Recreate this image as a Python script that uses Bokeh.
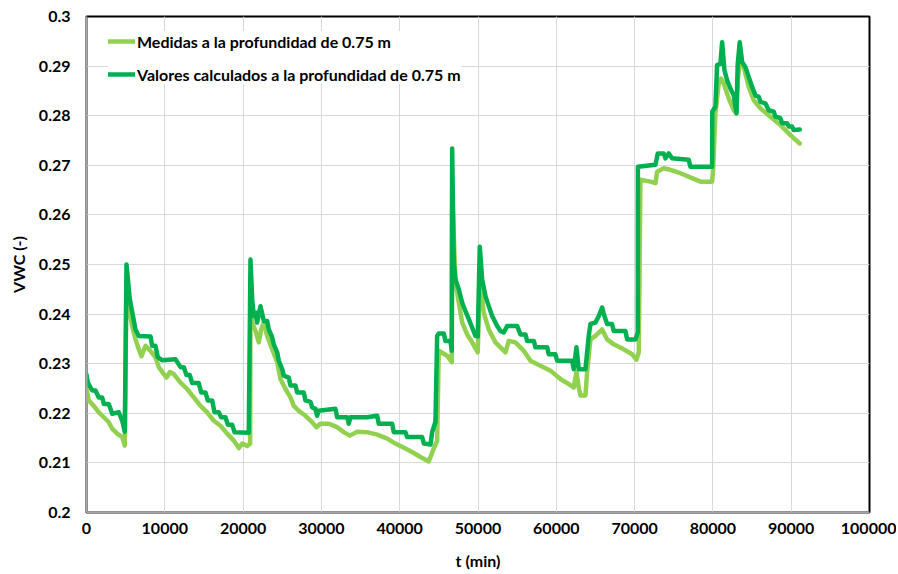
from bokeh.plotting import figure
from bokeh.models import FixedTicker, Range1d, Legend, LegendItem
from bokeh.embed import file_html
from bokeh.resources import INLINE

# ---- data ----
t_medidas = [0, 294, 932, 1571, 2209, 2848, 3282, 3920, 4559, 4891, 5108, 5402, 5834, 6257, 6680,
             7023, 7534, 8173, 8811, 9233, 9872, 10216, 10637, 11148, 12004, 12855, 13702, 14558,
             15413, 16256, 17112, 17968, 18810, 19449, 19883, 20522, 20900, 20943, 21160, 21581,
             22003, 22309, 22641, 23074, 23714, 24352, 24774, 25412, 26050, 26472, 27111, 27966,
             28822, 29371, 29882, 30941, 32014, 32856, 33623, 34568, 35846, 37123, 38400, 39459,
             40736, 41799, 42652, 43712, 44350, 44783, 44990, 46062, 46650, 46700, 47121, 47547,
             47981, 48620, 49255, 49970, 50225, 50730, 51376, 52228, 52870, 53508, 53930, 54785,
             55844, 56699, 57976, 59253, 60530, 61591, 62229, 62573, 62867, 63084, 63723, 63936,
             64361, 65000, 65855, 66492, 67335, 68613, 69686, 70235, 70531, 70746, 72023, 72662,
             72875, 73723, 74574, 75852, 77346, 78408, 79898, 80024, 80320, 80745, 81049, 81379,
             82018, 82662, 83006, 83172, 83517, 83938, 84576, 85214, 86068, 87346, 88623, 89900,
             91090]
vwc_medidas = [0.2249, 0.2226, 0.2215, 0.2202, 0.2192, 0.2182, 0.2169, 0.2159, 0.2152, 0.2135,
               0.2470, 0.2416, 0.2376, 0.2349, 0.2329, 0.2315, 0.2336, 0.2326, 0.2313, 0.2293,
               0.2279, 0.2272, 0.2283, 0.2279, 0.2262, 0.2249, 0.2232, 0.2215, 0.2202, 0.2185,
               0.2175, 0.2159, 0.2145, 0.2130, 0.2139, 0.2134, 0.2139, 0.2480, 0.2383, 0.2366,
               0.2343, 0.2369, 0.2383, 0.2356, 0.2329, 0.2303, 0.2269, 0.2249, 0.2232, 0.2215,
               0.2205, 0.2195, 0.2182, 0.2172, 0.2179, 0.2179, 0.2172, 0.2162, 0.2155, 0.2163,
               0.2162, 0.2157, 0.2149, 0.2139, 0.2129, 0.2120, 0.2112, 0.2103, 0.2129, 0.2145,
               0.2326, 0.2316, 0.2303, 0.2650, 0.2463, 0.2423, 0.2383, 0.2359, 0.2343, 0.2323,
               0.2480, 0.2403, 0.2369, 0.2343, 0.2333, 0.2323, 0.2346, 0.2343, 0.2326, 0.2306,
               0.2296, 0.2286, 0.2269, 0.2259, 0.2252, 0.2283, 0.2252, 0.2236, 0.2236, 0.2283,
               0.2349, 0.2356, 0.2369, 0.2349, 0.2339, 0.2329, 0.2319, 0.2308, 0.2323, 0.2671,
               0.2667, 0.2664, 0.2687, 0.2694, 0.2691, 0.2684, 0.2674, 0.2667, 0.2667, 0.2691,
               0.2805, 0.2865, 0.2875, 0.2865, 0.2835, 0.2811, 0.2805, 0.2872, 0.2918, 0.2898,
               0.2858, 0.2831, 0.2815, 0.2798, 0.2781, 0.2761, 0.2744]

t_calculados = [0, 166, 728, 1150, 1571, 2005, 2209, 2848, 3282, 4125, 4559, 4891, 5108, 5530,
                6257, 6680, 8173, 8390, 8811, 9105, 9667, 11365, 12004, 12425, 12770, 13191,
                13497, 14340, 14647, 15196, 15490, 16052, 16346, 16895, 17201, 17750, 18044,
                18606, 18900, 20726, 20943, 21160, 21364, 21581, 21798, 22220, 22641, 23074,
                23279, 23714, 23918, 24352, 24556, 24990, 25195, 25833, 26050, 26689, 26906,
                27749, 27966, 28605, 28822, 29235, 29448, 29665, 31797, 32014, 33291, 33495,
                33700, 35846, 37123, 37327, 39038, 39242, 40736, 40953, 42868, 43080, 43936,
                44145, 44566, 44783, 44990, 45630, 45844, 46483, 46650, 46700, 46904, 47121,
                47547, 47981, 48399, 48820, 49255, 49676, 49970, 50225, 50530, 50955, 51376,
                51810, 52449, 52870, 53291, 53725, 55002, 55422, 56060, 56276, 57125, 57338,
                58832, 59036, 59892, 60109, 62024, 62229, 62573, 62867, 63723, 64145, 64361,
                65000, 65420, 65855, 66058, 66492, 67120, 67335, 68830, 69047, 70107, 70403,
                70420, 72662, 72957, 73723, 73940, 74361, 74790, 76911, 77127, 79898, 79920,
                80320, 80537, 80962, 81177, 81472, 81817, 82239, 82662, 83006, 83172, 83427,
                83733, 84155, 84576, 85010, 85432, 85860, 86068, 86700, 87129, 87770, 87984,
                88623, 88839, 89470, 89690, 90110, 90324, 91090]
vwc_calculados = [0.2278, 0.2262, 0.2246, 0.2246, 0.2232, 0.2232, 0.2219, 0.2219, 0.2199, 0.2202,
                  0.2185, 0.2163, 0.2500, 0.2430, 0.2369, 0.2356, 0.2355, 0.2336, 0.2336, 0.2313,
                  0.2307, 0.2309, 0.2293, 0.2293, 0.2277, 0.2277, 0.2261, 0.2261, 0.2242, 0.2242,
                  0.2226, 0.2226, 0.2202, 0.2202, 0.2192, 0.2192, 0.2177, 0.2177, 0.2162, 0.2161,
                  0.2510, 0.2430, 0.2396, 0.2403, 0.2383, 0.2416, 0.2386, 0.2386, 0.2369, 0.2353,
                  0.2339, 0.2323, 0.2306, 0.2289, 0.2276, 0.2272, 0.2256, 0.2256, 0.2242, 0.2242,
                  0.2226, 0.2223, 0.2212, 0.2209, 0.2195, 0.2205, 0.2209, 0.2192, 0.2192, 0.2179,
                  0.2192, 0.2192, 0.2195, 0.2179, 0.2179, 0.2162, 0.2162, 0.2152, 0.2152, 0.2139,
                  0.2137, 0.2162, 0.2183, 0.2356, 0.2361, 0.2361, 0.2346, 0.2346, 0.2326, 0.2734,
                  0.2503, 0.2470, 0.2450, 0.2423, 0.2406, 0.2390, 0.2373, 0.2356, 0.2355, 0.2536,
                  0.2470, 0.2436, 0.2416, 0.2396, 0.2376, 0.2366, 0.2363, 0.2376, 0.2376, 0.2359,
                  0.2359, 0.2346, 0.2346, 0.2333, 0.2333, 0.2319, 0.2319, 0.2306, 0.2306, 0.2289,
                  0.2333, 0.2289, 0.2289, 0.2356, 0.2380, 0.2383, 0.2396, 0.2413, 0.2400, 0.2380,
                  0.2380, 0.2366, 0.2366, 0.2349, 0.2349, 0.2363, 0.2697, 0.2701, 0.2724, 0.2724,
                  0.2714, 0.2724, 0.2714, 0.2711, 0.2697, 0.2697, 0.2808, 0.2818, 0.2902, 0.2905,
                  0.2948, 0.2892, 0.2871, 0.2855, 0.2841, 0.2805, 0.2905, 0.2948, 0.2908, 0.2898,
                  0.2878, 0.2858, 0.2841, 0.2838, 0.2828, 0.2825, 0.2811, 0.2808, 0.2798, 0.2795,
                  0.2785, 0.2785, 0.2778, 0.2778, 0.2771, 0.2772]

x_ticks = [0, 10000, 20000, 30000, 40000, 50000, 60000, 70000, 80000, 90000, 100000]
x_tick_labels = ["0", "10000", "20000", "30000", "40000", "50000", "60000", "70000",
                 "80000", "90000", "100000"]
y_ticks = [0.2, 0.21, 0.22, 0.23, 0.24, 0.25, 0.26, 0.27, 0.28, 0.29, 0.3]
y_tick_labels = ["0.2", "0.21", "0.22", "0.23", "0.24", "0.25", "0.26", "0.27", "0.28",
                 "0.29", "0.3"]

label_medidas = "Medidas a la profundidad de 0.75 m"
label_calculados = "Valores calculados a la profundidad de 0.75 m"
x_title = "t (min)"
y_title = "VWC (-)"

FONT = "Lato"
COLOR_MED = "#92D050"
COLOR_CALC = "#00B050"

p = figure(width=896, height=572, output_backend="svg", toolbar_location=None,
           x_range=Range1d(0, 100000), y_range=Range1d(0.2, 0.3),
           min_border_left=86, min_border_right=27, min_border_top=16, min_border_bottom=58)
p.background_fill_color = "white"
p.border_fill_color = "white"
p.outline_line_color = "black"
p.outline_line_width = 2

r_med = p.line(t_medidas, vwc_medidas, line_color=COLOR_MED, line_width=4.5,
               line_join="round", line_cap="round")
r_calc = p.line(t_calculados, vwc_calculados, line_color=COLOR_CALC, line_width=4.5,
                line_join="round", line_cap="round")

for ax in (p.xaxis[0], p.yaxis[0]):
    ax.axis_line_color = "#A6A6A6"
    ax.axis_line_width = 2
    ax.major_tick_line_color = None
    ax.minor_tick_line_color = None
    ax.major_tick_out = 0
    ax.major_tick_in = 0
    ax.major_label_text_font = FONT
    ax.major_label_text_font_style = "bold"
    ax.major_label_text_font_size = "16px"
    ax.major_label_text_color = "black"
    ax.axis_label_text_font = FONT
    ax.axis_label_text_font_style = "bold"
    ax.axis_label_text_font_size = "16px"
    ax.axis_label_text_color = "black"

p.xaxis[0].ticker = FixedTicker(ticks=x_ticks)
p.xaxis[0].major_label_overrides = dict(zip(x_ticks, x_tick_labels))
p.xaxis[0].major_label_standoff = 10
p.xaxis[0].axis_label = x_title
p.xaxis[0].axis_label_standoff = 14

p.yaxis[0].ticker = FixedTicker(ticks=y_ticks)
p.yaxis[0].major_label_overrides = dict(zip(y_ticks, y_tick_labels))
p.yaxis[0].major_label_standoff = 16
p.yaxis[0].axis_label = y_title
p.yaxis[0].axis_label_standoff = 8

p.xgrid.ticker = FixedTicker(ticks=x_ticks)
p.ygrid.ticker = FixedTicker(ticks=y_ticks)
p.grid.grid_line_color = "#D9D9D9"
p.grid.grid_line_width = 1

legend = Legend(items=[LegendItem(label=label_medidas, renderers=[r_med]),
                       LegendItem(label=label_calculados, renderers=[r_calc])],
                location=(22, 428), margin=0, padding=10, spacing=13,
                glyph_width=27, glyph_height=20, label_height=20, label_standoff=2,
                label_text_font=FONT, label_text_font_style="bold",
                label_text_font_size="16px", label_text_color="black",
                border_line_color=None, background_fill_color="white",
                background_fill_alpha=1.0)
p.add_layout(legend, "center")

open("out.html", "w").write(file_html(p, INLINE))
